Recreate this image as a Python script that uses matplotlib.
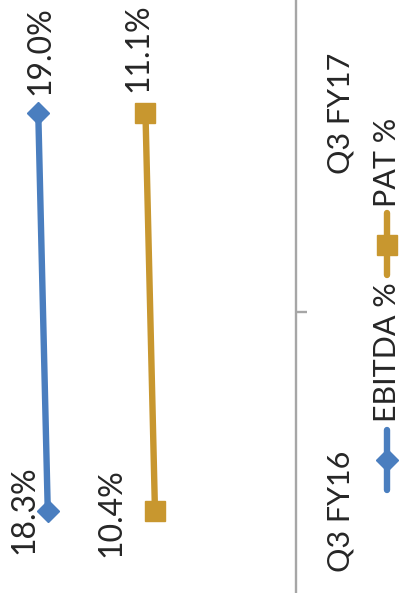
import matplotlib.pyplot as plt
import numpy as np
from matplotlib.lines import Line2D

# ----------------------[Data]----------------------
quarters = ['Q3 FY16', 'Q3 FY17']
ebitda = [18.3, 19.0]
pat = [10.4, 11.1]
series_names = ['EBITDA %', 'PAT %']
colors = ['#4A7EBF', '#C8972F']
markers = ['D', 's']
marker_sizes = [11, 15]
# --------------------------------------------------

W, H = 401, 593
plt.rcParams['font.family'] = ['Lato', 'DejaVu Sans']
text_color = '#262626'
axis_color = '#A6A6A6'

fig = plt.figure(figsize=(W / 100, H / 100), dpi=100)
ax = fig.add_axes([0, 0, 1, 1])

# the chart is drawn turned 90 degrees: values run right-to-left, categories bottom-to-top
pos = np.arange(len(quarters))
series = [ebitda, pat]
for vals, c, m, ms in zip(series, colors, markers, marker_sizes):
    ax.plot(vals, pos, color=c, lw=4.6, marker=m, ms=ms, mec=c, mew=1,
            solid_capstyle='butt', zorder=3)

ax.set_xlim(21.82, -7.73)
ax.set_ylim(-0.206, 1.284)

# data labels (offsets in pixels: right, down)
label_offsets = [[(-23, -1), (2, -62)], [(-44, 2), (-7, -65)]]
for vals, offs in zip(series, label_offsets):
    for p, v, (dx, dy) in zip(pos, vals, offs):
        ax.annotate('{:.1f}%'.format(v), (v, p), xytext=(dx * 0.72, -dy * 0.72),
                    textcoords='offset points', rotation=90, ha='center', va='center',
                    fontsize=23, color=text_color)

# category axis sits at value 0
for s in ['left', 'top', 'bottom']:
    ax.spines[s].set_visible(False)
ax.spines['right'].set_position(('data', 0))
ax.spines['right'].set_color(axis_color)
ax.spines['right'].set_linewidth(1.7)
ax.set_xticks([])
ax.yaxis.tick_right()
ax.set_yticks(pos)
ax.set_yticklabels(quarters, rotation=90, va='center', fontsize=22, color=text_color)
ax.set_yticks([0.5], minor=True)
ax.tick_params(axis='y', which='major', length=0, pad=22)
ax.tick_params(axis='y', which='minor', length=8, width=1.7, color=axis_color, direction='out')


# legend, drawn by hand because it is turned too
def fp(x, y):
    return x / W, 1 - y / H


legend_items = [(430, 490, 460, 422), (213, 275, 245, 207)]
lx = 387
for (y0, y1, ym, yt), name, c, m, ms in zip(legend_items, series_names, colors, markers, marker_sizes):
    xa, ya = fp(lx, y0)
    xb, yb = fp(lx, y1)
    fig.add_artist(Line2D([xa, xb], [ya, yb], color=c, lw=4.6, solid_capstyle='round',
                          transform=fig.transFigure))
    xm, ymm = fp(lx, ym)
    fig.add_artist(Line2D([xm], [ymm], marker=m, ms=ms, color=c, mec=c,
                          transform=fig.transFigure))
    xt, ytt = fp(lx, yt)
    fig.text(xt, ytt, name, rotation=90, ha='center', va='bottom', fontsize=22, color=text_color)

fig.savefig('out.png', dpi=100, facecolor='white')
